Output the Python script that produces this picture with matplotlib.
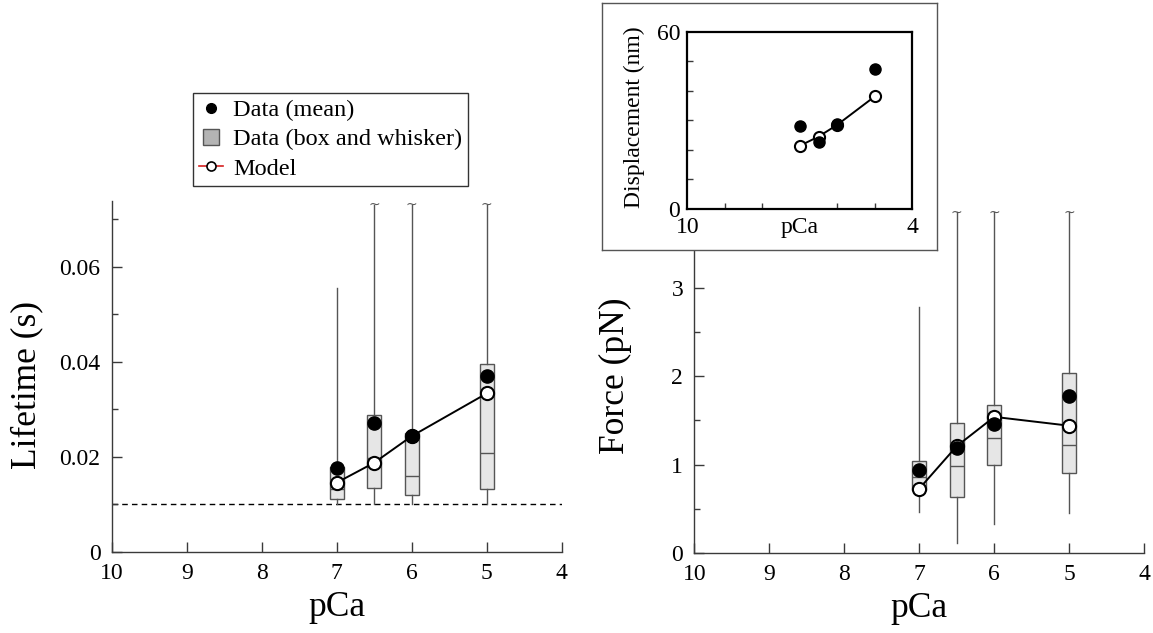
import matplotlib
matplotlib.use("Agg")
import matplotlib.pyplot as plt
from matplotlib.lines import Line2D
from matplotlib.ticker import MultipleLocator

plt.rcParams["font.family"] = ["Liberation Serif", "DejaVu Serif"]

# ── Data ──────────────────────────────────────────────────────────────────────
pca = [7, 6.5, 6, 5]

# lifetime (s)
lt_lo    = [0.0100, 0.0100, 0.0100, 0.0100]
lt_q1    = [0.0111, 0.0134, 0.0120, 0.0132]
lt_med   = [0.0132, 0.0198, 0.0159, 0.0208]
lt_q3    = [0.0178, 0.0287, 0.0249, 0.0395]
lt_hi    = [0.0555, 0.0730, 0.0730, 0.0730]
lt_cut   = [False, True, True, True]     # whisker runs off the axis
lt_mean  = [0.0175, 0.0270, 0.0243, 0.0370]
lt_model = [0.0145, 0.0187, 0.0243, 0.0333]
dead_time = 0.01

# force (pN)
f_lo    = [0.466, 0.116, 0.33, 0.455]
f_q1    = [0.71, 0.63, 1.00, 0.905]
f_med   = [0.86, 0.98, 1.30, 1.22]
f_q3    = [1.04, 1.47, 1.67, 2.03]
f_hi    = [2.78, 3.85, 3.85, 3.85]
f_cut   = [False, True, True, True]
f_mean  = [0.94, 1.19, 1.46, 1.77]
f_model = [0.73, 1.21, 1.54, 1.44]

# displacement (nm), inset
d_mean  = [28.2, 22.8, 28.8, 47.4]
d_model = [21.4, 24.5, 28.5, 38.1]

# ── Style ─────────────────────────────────────────────────────────────────────
W, H = 1153, 633
AX    = "#3a3a3a"
BOXFC = "#e6e6e6"
BOXEC = "#555555"

fig = plt.figure(figsize=(W / 100, H / 100), dpi=100)


def px_axes(x0, y0, x1, y1, **kw):
    return fig.add_axes([x0 / W, 1 - y1 / H, (x1 - x0) / W, (y1 - y0) / H], **kw)


def style_main(ax):
    ax.spines["top"].set_visible(False)
    ax.spines["right"].set_visible(False)
    for s in ("left", "bottom"):
        ax.spines[s].set_color(AX)
        ax.spines[s].set_linewidth(1.0)
    ax.tick_params(which="both", direction="in", color=AX, width=1.0)
    ax.tick_params(which="major", length=7, labelsize=17, pad=8)
    ax.tick_params(which="minor", length=4)
    ax.set_xlim(10, 4)
    ax.set_xticks([10, 9, 8, 7, 6, 5, 4])
    ax.set_xlabel("pCa", fontsize=25.5, labelpad=5)


def draw_panel(ax, lo, q1, med, q3, hi, cut, mean, model):
    stats = [dict(whislo=a, q1=b, med=c, q3=d, whishi=e, fliers=[])
             for a, b, c, d, e in zip(lo, q1, med, q3, hi)]
    ax.bxp(stats, positions=pca, widths=0.19, patch_artist=True,
           showcaps=False, showfliers=False, manage_ticks=False,
           boxprops=dict(facecolor=BOXFC, edgecolor=BOXEC, linewidth=1.0),
           medianprops=dict(color=BOXEC, linewidth=1.0),
           whiskerprops=dict(color=BOXEC, linewidth=1.0), zorder=2)
    for x, top, c in zip(pca, hi, cut):
        if c:
            ax.text(x, top, "~", ha="center", va="center", fontsize=10,
                    color=BOXEC, family="DejaVu Sans", zorder=2)
    ax.plot(pca, model, "-o", color="black", lw=1.4, ms=9.5, mfc="white",
            mec="black", mew=1.5, zorder=4, clip_on=False)
    ax.plot(pca, mean, "o", color="black", ms=9.5, ls="none", zorder=5,
            clip_on=False)


# ── Left: lifetime ────────────────────────────────────────────────────────────
ax1 = px_axes(111.7, 200.7, 561.7, 551.5)
style_main(ax1)
ax1.set_ylim(0, 0.0739)
ax1.set_yticks([0, 0.02, 0.04, 0.06])
ax1.set_yticklabels(["0", "0.02", "0.04", "0.06"])
ax1.yaxis.set_minor_locator(MultipleLocator(0.01))
ax1.axhline(dead_time, color="black", lw=1.0, ls=(0, (4, 3)), zorder=1)
draw_panel(ax1, lt_lo, lt_q1, lt_med, lt_q3, lt_hi, lt_cut, lt_mean, lt_model)
ax1.set_ylabel("Lifetime (s)", fontsize=25.5)
ax1.yaxis.set_label_coords(-0.153, 0.476)

# ── Right: force ──────────────────────────────────────────────────────────────
ax2 = px_axes(694.3, 206, 1144.3, 553.3)
style_main(ax2)
ax2.set_ylim(0, 3.92)
ax2.set_yticks([0, 1, 2, 3])
ax2.yaxis.set_minor_locator(MultipleLocator(0.5))
draw_panel(ax2, f_lo, f_q1, f_med, f_q3, f_hi, f_cut, f_mean, f_model)
ax2.set_ylabel("Force (pN)", fontsize=25.5)
ax2.yaxis.set_label_coords(-0.138, 0.51)

# ── Inset: displacement ───────────────────────────────────────────────────────
frame = px_axes(601.7, 2.7, 937.3, 250, zorder=5)
frame.set_xticks([])
frame.set_yticks([])
for s in frame.spines.values():
    s.set_color("#555555")
    s.set_linewidth(1.0)

ax3 = px_axes(687.3, 31.7, 912.3, 209, zorder=6)
ax3.set_xlim(10, 4)
ax3.set_ylim(0, 60)
ax3.set_xticks([10, 7, 4])
ax3.set_xticklabels(["10", "pCa", "4"])
ax3.set_xticks([9, 8, 6, 5], minor=True)
ax3.set_yticks([0, 60])
ax3.set_yticks([10, 20, 30, 40, 50], minor=True)
for s in ax3.spines.values():
    s.set_color("black")
    s.set_linewidth(1.6)
ax3.tick_params(which="both", direction="in", color=AX, width=1.0)
ax3.tick_params(which="major", length=0, labelsize=17, pad=6)
ax3.tick_params(axis="y", which="major", pad=5)
ax3.tick_params(which="minor", length=4)
ax3.plot(pca, d_model, "-o", color="black", lw=1.4, ms=8, mfc="white",
         mec="black", mew=1.5, zorder=4, clip_on=False)
ax3.plot(pca, d_mean, "o", color="black", ms=8, ls="none", zorder=5)
ax3.set_ylabel("Displacement (nm)", fontsize=17)
ax3.yaxis.set_label_coords(-0.19, 0.52)

# ── Legend ────────────────────────────────────────────────────────────────────
handles = [
    Line2D([], [], marker="o", ls="none", color="black", ms=7),
    Line2D([], [], marker="s", ls="none", mfc="#b4b4b4", mec="#555555", ms=11),
    Line2D([], [], marker="o", color="#d62020", lw=1.2, mfc="white",
           mec="black", mew=1.2, ms=6.5),
]
labels = ["Data (mean)", "Data (box and whisker)", "Model"]
leg = fig.legend(handles, labels, loc="upper left",
                 bbox_to_anchor=(192.7 / W, 1 - 93 / H), fontsize=17.5,
                 frameon=True, fancybox=False, edgecolor="black",
                 handlelength=1.0, handletextpad=0.4, borderpad=0.25,
                 labelspacing=0.3, borderaxespad=0)
leg.get_frame().set_linewidth(1.0)

fig.savefig("out.png", dpi=100, facecolor="white")
